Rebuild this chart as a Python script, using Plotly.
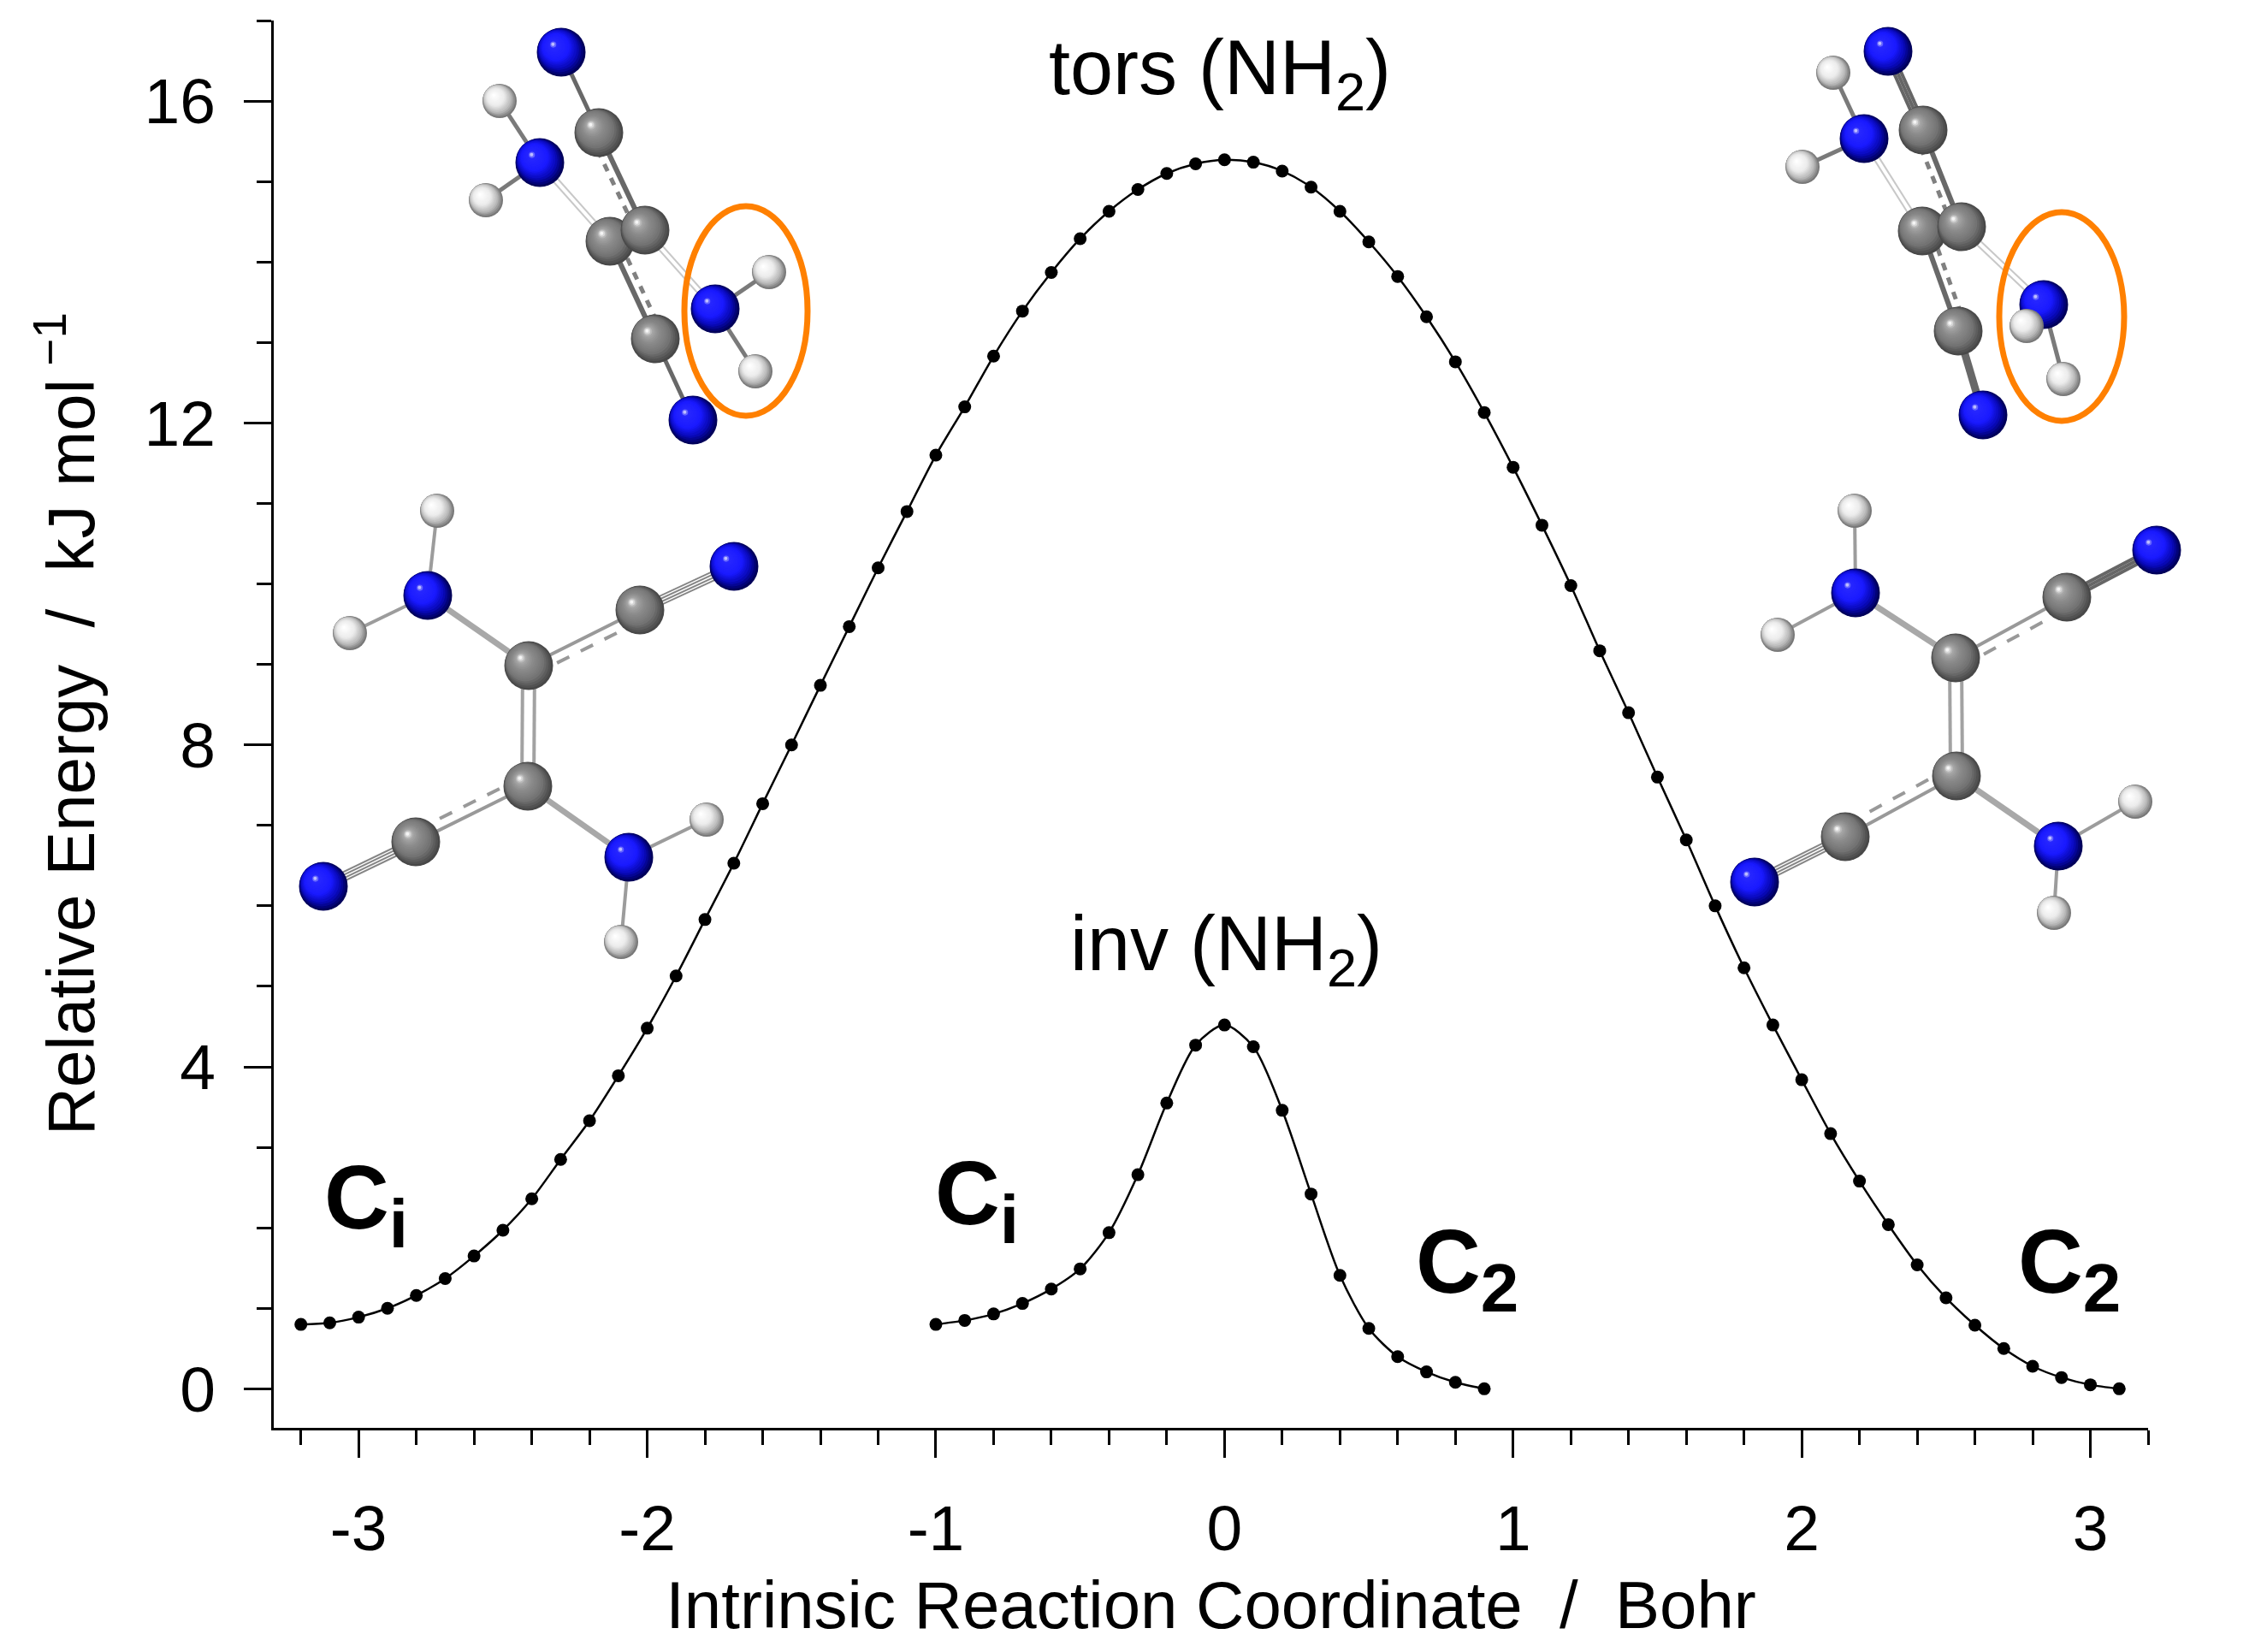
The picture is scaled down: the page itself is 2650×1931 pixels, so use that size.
import math
import plotly.graph_objects as go

# IRC scan along the NH2 torsion
irc_tors = [-3.2, -3.1, -3.0, -2.9, -2.8, -2.7, -2.6, -2.5, -2.4, -2.3, -2.2, -2.1, -2.0, -1.9, -1.8, -1.7,
            -1.6, -1.5, -1.4, -1.3, -1.2, -1.1, -1.0, -0.9, -0.8, -0.7, -0.6, -0.5, -0.4, -0.3, -0.2, -0.1,
            0.0, 0.1, 0.2, 0.3, 0.4, 0.5, 0.6, 0.7, 0.8, 0.9, 1.0, 1.1, 1.2, 1.3, 1.4, 1.5,
            1.6, 1.7, 1.8, 1.9, 2.0, 2.1, 2.2, 2.3, 2.4, 2.5, 2.6, 2.7, 2.8, 2.9, 3.0, 3.1]
energy_tors = [0.80, 0.82, 0.89, 1.00, 1.16, 1.37, 1.65, 1.97, 2.36, 2.85, 3.33, 3.89, 4.48, 5.13, 5.83, 6.53,
               7.27, 8.00, 8.74, 9.47, 10.20, 10.90, 11.60, 12.20, 12.83, 13.39, 13.87, 14.29, 14.63, 14.90, 15.10, 15.22,
               15.27, 15.24, 15.13, 14.93, 14.63, 14.25, 13.82, 13.32, 12.76, 12.13, 11.45, 10.73, 9.98, 9.17, 8.40, 7.60,
               6.82, 6.00, 5.23, 4.52, 3.84, 3.17, 2.58, 2.04, 1.54, 1.13, 0.79, 0.50, 0.28, 0.14, 0.05, 0.00]

# IRC scan along the NH2 inversion
irc_inv = [-1.0, -0.9, -0.8, -0.7, -0.6, -0.5, -0.4, -0.3, -0.2, -0.1,
           0.0, 0.1, 0.2, 0.3, 0.4, 0.5, 0.6, 0.7, 0.8, 0.9]
energy_inv = [0.80, 0.85, 0.93, 1.06, 1.24, 1.49, 1.94, 2.66, 3.55, 4.27,
              4.52, 4.25, 3.46, 2.42, 1.41, 0.75, 0.40, 0.21, 0.08, 0.00]

x_tick_vals = [-3, -2, -1, 0, 1, 2, 3]
x_tick_text = ["-3", "-2", "-1", "0", "1", "2", "3"]
y_tick_vals = [0, 4, 8, 12, 16]
y_tick_text = ["0", "4", "8", "12", "16"]

# molecule sketches, positions are picture pixels (x2/y2 run over the whole page)
mol_a = {"N1": (656, 61, "N"), "C1": (700, 155, "C"), "N2": (631, 190, "N"), "H1": (584, 118, "H"), "H2": (568, 234, "H"),
         "C2": (713, 282, "C"), "C3": (754, 269, "C"), "N3": (836, 361, "N"), "H3": (899, 318, "H"), "H4": (883, 434, "H"),
         "C4": (766, 396, "C"), "N4": (810, 491, "N")}
mol_a_bonds = [("N1", "C1", "edge"), ("C1", "C3", "edge_cc"), ("N2", "H1", "edge_nh"), ("N2", "H2", "edge_nh"),
               ("N2", "C2", "edge_double"), ("C3", "N3", "edge_double"), ("C4", "C2", "edge_cc"), ("C4", "N4", "edge"),
               ("N3", "H3", "edge_nh"), ("N3", "H4", "edge_nh")]

mol_b = {"H1": (511, 597, "H"), "N1": (500, 696, "N"), "H2": (409, 740, "H"), "C1": (618, 778, "C"), "C2": (748, 713, "C"),
         "N2": (858, 662, "N"), "C3": (617, 919, "C"), "C4": (486, 984, "C"), "N3": (378, 1036, "N"), "N4": (735, 1002, "N"),
         "H3": (826, 958, "H"), "H4": (726, 1101, "H")}
mol_b_bonds = [("H1", "N1", "nh"), ("H2", "N1", "nh"), ("N1", "C1", "cn"), ("C1", "C3", "double"), ("C1", "C2", "cc"),
               ("C2", "N2", "triple"), ("C3", "C4", "cc"), ("C4", "N3", "triple"), ("C3", "N4", "cn"),
               ("N4", "H3", "nh"), ("N4", "H4", "nh")]

mol_c = {"N1": (2207, 60, "N"), "C1": (2248, 152, "C"), "N2": (2179, 162, "N"), "H1": (2143, 85, "H"), "H2": (2107, 195, "H"),
         "C2": (2247, 270, "C"), "C3": (2293, 265, "C"), "N3": (2389, 356, "N"), "H3": (2369, 381, "H"), "H4": (2412, 443, "H"),
         "C4": (2289, 387, "C"), "N4": (2318, 485, "N")}
mol_c_bonds = [("N1", "C1", "edge_triple"), ("C1", "C3", "edge_cc"), ("N2", "H1", "edge_nh"), ("N2", "H2", "edge_nh"),
               ("N2", "C2", "edge_double"), ("C3", "N3", "edge_double"), ("C4", "C2", "edge_cc"), ("C4", "N4", "edge_thick"),
               ("N3", "H3", "edge_nh"), ("N3", "H4", "edge_nh")]

mol_d = {"H1": (2168, 597, "H"), "N1": (2169, 693, "N"), "H2": (2078, 742, "H"), "C1": (2286, 769, "C"), "C2": (2416, 698, "C"),
         "N2": (2521, 643, "N"), "C3": (2287, 907, "C"), "C4": (2157, 978, "C"), "N3": (2051, 1031, "N"), "N4": (2406, 989, "N"),
         "H3": (2496, 937, "H"), "H4": (2401, 1067, "H")}
mol_d_bonds = [("H1", "N1", "nh"), ("H2", "N1", "nh"), ("N1", "C1", "cn"), ("C1", "C3", "double"), ("C1", "C2", "cc"),
               ("C2", "N2", "edge_triple"), ("C3", "C4", "cc"), ("C4", "N3", "triple"), ("C3", "N4", "cn"),
               ("N4", "H3", "nh"), ("N4", "H4", "nh")]

# each line of a bond: sideways offset, colour, width, dash
bond_styles = {
    "nh": [(0, "#9c9c9c", 4, None)],
    "cn": [(0, "#a8a8a8", 7, None)],
    "double": [(-7, "#a2a2a2", 4, None), (7, "#a2a2a2", 4, None)],
    "triple": [(-5, "#858585", 2, None), (-1.7, "#858585", 2, None), (1.7, "#858585", 2, None), (5, "#858585", 2, None)],
    "cc": [(0, "#999999", 4, None), (12, "#999999", 4, "16px,15px")],
    "edge": [(0, "#686868", 5, None)],
    "edge_thick": [(0, "#686868", 9, None)],
    "edge_triple": [(-4, "#666666", 4, None), (0, "#666666", 4, None), (4, "#666666", 4, None)],
    "edge_cc": [(0, "#686868", 6, None), (10, "#808080", 5, "9px,9px")],
    "edge_nh": [(0, "#7a7a7a", 5, None)],
    "edge_double": [(-3, "#c8c8c8", 2, None), (3, "#c8c8c8", 2, None)],
}
atom_sizes = {"N": 57, "C": 57, "H": 40}
atom_ramps = {
    "N": [(0.0, (0, 0, 90)), (0.2, (10, 10, 190)), (0.45, (26, 26, 255)), (0.9, (40, 40, 255)), (1.0, (190, 190, 255))],
    "C": [(0.0, (72, 72, 72)), (0.25, (118, 118, 118)), (0.6, (140, 140, 140)), (0.85, (168, 168, 168)), (1.0, (245, 245, 245))],
    "H": [(0.0, (120, 120, 120)), (0.2, (190, 190, 190)), (0.5, (236, 236, 236)), (1.0, (255, 255, 255))],
}
n_layers = 18


def ramp_color(ramp, s):
    for (s0, c0), (s1, c1) in zip(ramp, ramp[1:]):
        if s <= s1:
            f = (s - s0) / (s1 - s0)
            return "rgb(%d,%d,%d)" % tuple(c0[i] + (c1[i] - c0[i]) * f for i in range(3))
    return "rgb(%d,%d,%d)" % ramp[-1][1]


def add_molecule(fig, atoms, bonds):
    for a, b, style in bonds:
        xa, ya = atoms[a][:2]
        xb, yb = atoms[b][:2]
        length = math.hypot(xb - xa, yb - ya)
        nx, ny = -(yb - ya) / length, (xb - xa) / length
        for offset, color, width, dash in bond_styles[style]:
            fig.add_trace(go.Scatter(
                x=[xa + nx * offset, xb + nx * offset],
                y=[ya + ny * offset, yb + ny * offset],
                xaxis="x2", yaxis="y2",
                mode="lines",
                line=dict(color=color, width=width, dash=dash or "solid"),
                hoverinfo="skip",
            ))
    # stacked discs give the shaded ball look, dark rim only on the lower right
    xs, ys, sizes, colors = [], [], [], []
    for px, py, kind in atoms.values():
        d = atom_sizes[kind]
        for k in range(n_layers):
            s = k / (n_layers - 1)
            if s <= 0.3:
                shift = 0.45 * 0.93 * d * s
            else:
                shift = 0.1256 * d + (0.235 - 0.1256) * d * (s - 0.3) / 0.7
            xs.append(px - shift * 0.72)
            ys.append(py - shift * 0.69)
            sizes.append(d * (1 - 0.93 * s))
            colors.append(ramp_color(atom_ramps[kind], s))
    fig.add_trace(go.Scatter(
        x=xs, y=ys, xaxis="x2", yaxis="y2", mode="markers",
        marker=dict(size=sizes, color=colors, line=dict(width=0), opacity=1),
        hoverinfo="skip",
    ))


fig = go.Figure()

for mol, mol_bonds in [(mol_a, mol_a_bonds), (mol_b, mol_b_bonds), (mol_c, mol_c_bonds), (mol_d, mol_d_bonds)]:
    add_molecule(fig, mol, mol_bonds)

for irc, energy in [(irc_tors, energy_tors), (irc_inv, energy_inv)]:
    fig.add_trace(go.Scatter(
        x=irc, y=energy,
        mode="lines+markers",
        line=dict(color="black", width=2.5, shape="spline", smoothing=0.8),
        marker=dict(color="black", size=15),
        cliponaxis=False,
    ))

# orange rings round the NH2 group
for x0, x1, y0, y1 in [(800, 944, 241, 486), (2337, 2483, 248, 492)]:
    fig.add_shape(type="circle", xref="x2", yref="y2", x0=x0, x1=x1, y0=y0, y1=y1,
                  line=dict(color="#ff8000", width=7))

title_font = dict(family="Liberation Sans", size=78, color="black")
tick_font = dict(family="Liberation Sans", size=75, color="black")
label_font = dict(family="Liberation Sans", size=90, color="black")
bold_font = dict(family="Liberation Sans", size=105, color="black")
fig.add_annotation(xref="x2", yref="y2", x=1426, y=85, text="tors (NH<sub>2</sub>)", showarrow=False, font=label_font)
fig.add_annotation(xref="x2", yref="y2", x=1433, y=1109, text="inv (NH<sub>2</sub>)", showarrow=False, font=label_font)
sub_i = '<b>C<sub><span style="font-size:80px">i</span></sub></b>'
sub_2 = '<b>C<sub><span style="font-size:80px">2</span></sub></b>'
for text, px, py in [(sub_i, 377, 1408), (sub_i, 1091, 1403), (sub_2, 1653, 1483), (sub_2, 2357, 1483)]:
    fig.add_annotation(xref="x2", yref="y2", x=px, y=py, text=text, showarrow=False, font=bold_font, xanchor="left")

fig.update_layout(
    width=2650,
    height=1931,
    margin=dict(l=0, r=0, t=0, b=0),
    plot_bgcolor="rgba(0,0,0,0)",  # the page-wide subplot would paint over the chart otherwise
    paper_bgcolor="white",
    showlegend=False,
    font=tick_font,
    xaxis=dict(
        domain=[320 / 2650, 2511 / 2650],
        range=[-3.294, 3.2],
        anchor="y",
        automargin=False,
        showgrid=False, zeroline=False,
        showline=True, linecolor="black", linewidth=3,
        tickmode="array", tickvals=x_tick_vals, ticktext=x_tick_text,
        ticks="outside", ticklen=32, tickwidth=3, tickcolor="black",
        ticklabelstandoff=18,
        tickfont=tick_font,
        minor=dict(dtick=0.2, tick0=0, ticks="outside", ticklen=17, tickwidth=3, tickcolor="black", showgrid=False),
        title=dict(text="Intrinsic Reaction Coordinate\u00a0\u00a0/\u00a0\u00a0Bohr", font=title_font, standoff=22),
    ),
    yaxis=dict(
        domain=[(1931 - 1668.5) / 1931, (1931 - 24) / 1931],
        range=[-0.48, 17],
        anchor="x",
        automargin=False,
        showgrid=False, zeroline=False,
        showline=True, linecolor="black", linewidth=3,
        tickmode="array", tickvals=y_tick_vals, ticktext=y_tick_text,
        ticks="outside", ticklen=32, tickwidth=3, tickcolor="black",
        ticklabelstandoff=18,
        tickfont=tick_font,
        minor=dict(dtick=1, tick0=0, ticks="outside", ticklen=17, tickwidth=3, tickcolor="black", showgrid=False),
        title=dict(text="Relative Energy\u00a0\u00a0/\u00a0\u00a0kJ mol\u2009<sup>\u22121</sup>", font=title_font, standoff=33),
    ),
    # page-wide pixel axes for the molecule sketches and labels
    xaxis2=dict(domain=[0, 1], range=[0, 2650], anchor="y2", visible=False, fixedrange=True),
    yaxis2=dict(domain=[0, 1], range=[1931, 0], anchor="x2", visible=False, fixedrange=True),
)

fig.write_html("out.html", post_script="document.body.style.margin='0';", config=dict(displayModeBar=False))
